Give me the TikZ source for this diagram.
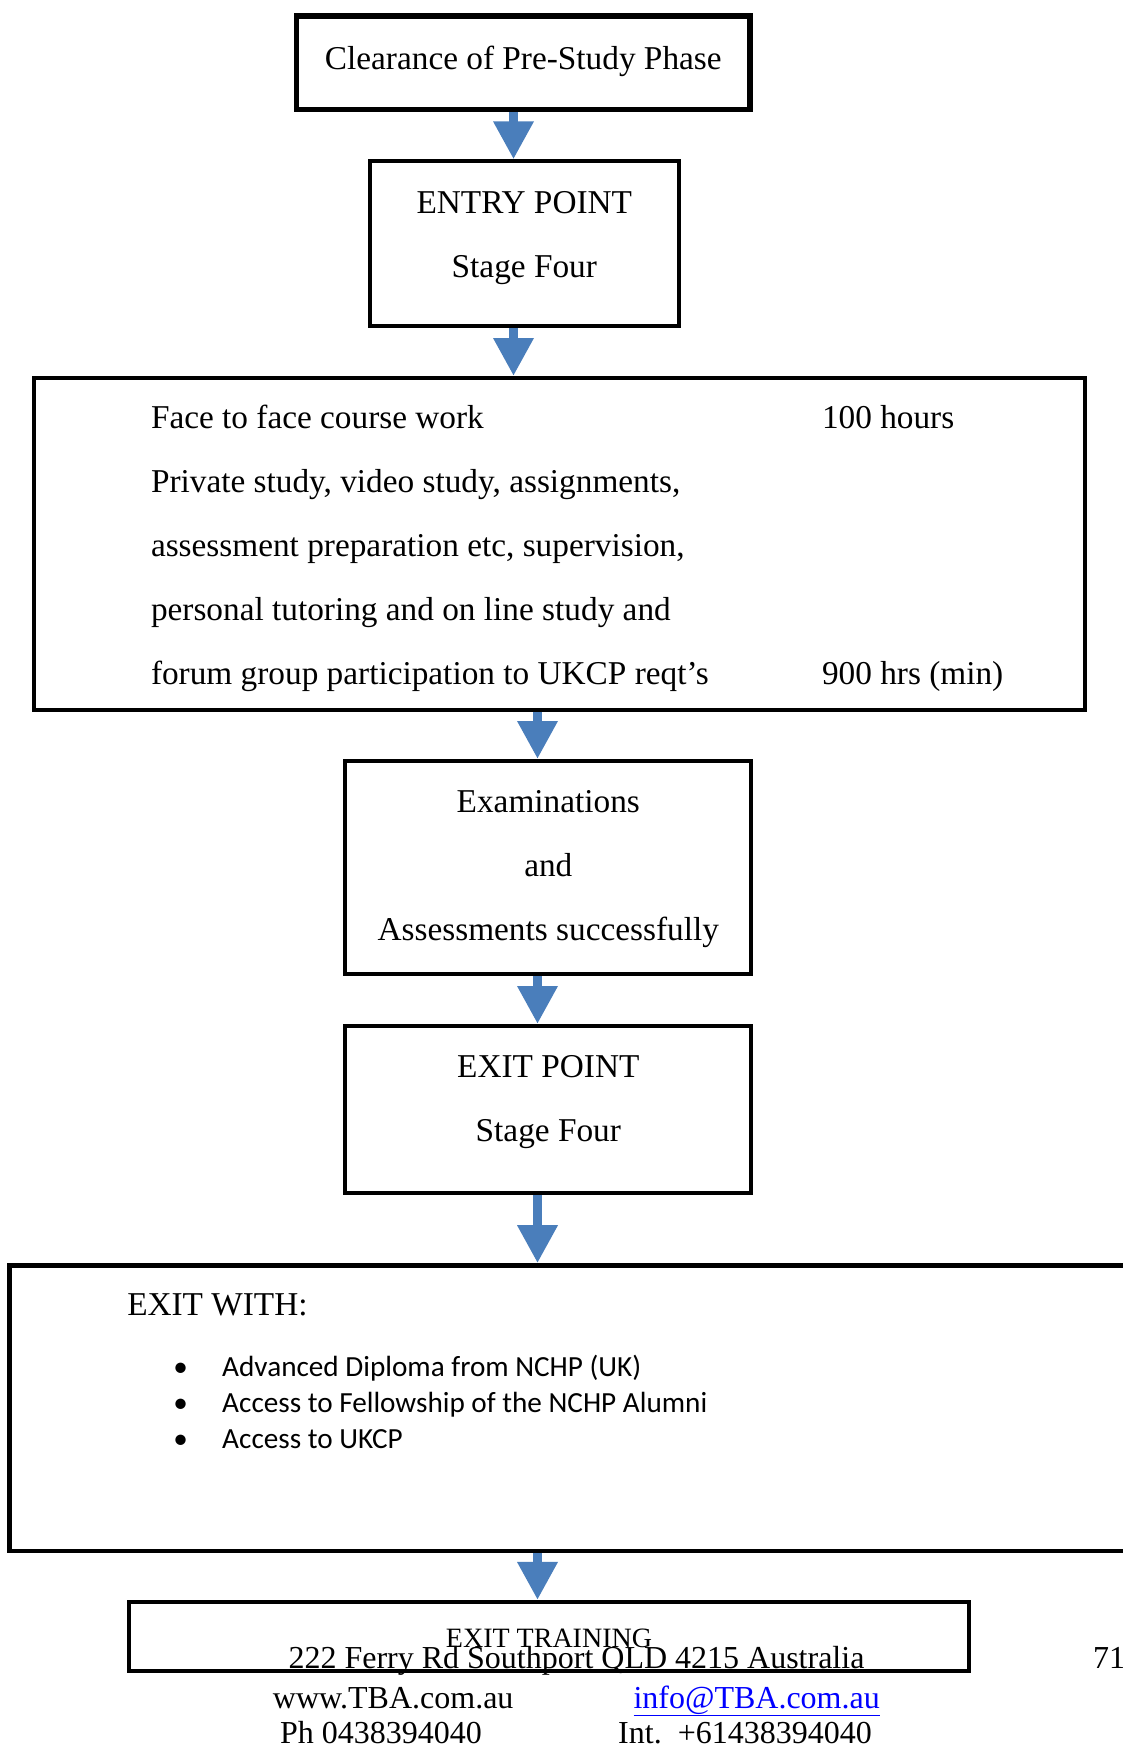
\documentclass[tikz,border=0pt]{standalone}
\usepackage{fontspec}
\setmainfont{Liberation Serif}
\newfontfamily\listfont{Carlito}
\usetikzlibrary{arrows.meta}
\usetikzlibrary{backgrounds}
\definecolor{flowblue}{HTML}{4A7EBB}
\definecolor{linkblue}{HTML}{0000FF}

\tikzset{
    stagebox/.style={draw, line width=4pt, inner ysep=0pt, align=center,
        font=\fontsize{33.3}{64}\selectfont},
    listbox/.style={stagebox, align=flush left,
        execute at begin node={\setlength{\parindent}{0pt}\setlength{\parskip}{0pt}}},
    flow/.style={draw=flowblue, line width=9.5pt,
        -{Triangle[width=38pt,length=38pt,fill=flowblue]}},
    foot/.style={anchor=base west, inner sep=0pt, font=\fontsize{32}{36}\selectfont},
}

\begin{document}
\begin{tikzpicture}[x=1pt, y=-1pt]
        \useasboundingbox (0,0) rectangle (1123,1747);
        \clip (0,0) rectangle (1123,1747);

        \node[stagebox, line width=5.5pt, minimum width=453.4pt,
              text height=53pt, text depth=40.3pt] (clear) at (523.3,62.7)
              {Clearance of Pre-Study Phase};
        \node[stagebox, minimum width=309.3pt,
              text height=115.7pt, text depth=49pt] (entry) at (524.3,243.7)
              {ENTRY POINT\\Stage Four};
        \node[listbox, text width=817pt, inner xsep=117pt,
              text height=50.3pt, text depth=281.7pt] (work) at (559.5,544)
              {\makebox[671pt][l]{Face to face course work}\rlap{100 hours}\\
               Private study, video study, assignments,\\
               assessment preparation etc, supervision,\\
               personal tutoring and on line study and\\
               \makebox[671pt][l]{forum group participation to UKCP reqt’s}\rlap{900 hrs (min)}};
        \node[stagebox, minimum width=406pt,
              text height=179pt, text depth=34pt] (exam) at (548.3,867.5)
              {Examinations\\and\\Assessments successfully};
        \node[stagebox, minimum width=406pt,
              text height=115pt, text depth=51.6pt] (exitpt) at (548.3,1109.3)
              {EXIT POINT\\Stage Four};
        \node[listbox, line width=4.5pt, text width=894.7pt, inner xsep=118pt,
              text height=50.2pt, text depth=235.3pt] (exitwith) at (574.6,1408.2)
              {EXIT WITH:\par\vspace{25.7pt}
               {\listfont\fontsize{29.2}{35.6}\selectfont
               \hspace*{46pt}\makebox[49pt][l]{•}Advanced Diploma from NCHP (UK)\\
               \hspace*{46pt}\makebox[49pt][l]{•}Access to Fellowship of the NCHP Alumni\\
               \hspace*{46pt}\makebox[49pt][l]{•}Access to UKCP\par}};
        \node[stagebox, minimum width=839.4pt, font=\fontsize{28}{32}\selectfont,
              text height=46pt, text depth=22.7pt] (exittrain) at (549,1636.3)
              {EXIT TRAINING};

        % footer of the page
        \node[foot] (addr)   at (288.3,1668) {222 Ferry Rd Southport QLD 4215 Australia};
        \node[foot] (page)   at (1093,1668)  {71};
        \node[foot] (web)    at (272.7,1708) {www.TBA.com.au};
        \node[foot, text=linkblue] (mail) at (633.3,1708) {\underline{info@TBA.com.au}};
        \node[foot] (phone)  at (280,1743)   {Ph 0438394040};
        \node[foot] (intl)   at (618,1743)   {Int.\ \ +61438394040};

        \coordinate (upper) at (513.5,0);
        \coordinate (lower) at (537.5,0);
        \begin{scope}[on background layer]
            \draw[flow] (clear.south -| upper)    -- (entry.north -| upper);
            \draw[flow] (entry.south -| upper)    -- (work.north -| upper);
            \draw[flow] (work.south -| lower)     -- (exam.north -| lower);
            \draw[flow] (exam.south -| lower)     -- (exitpt.north -| lower);
            \draw[flow] (exitpt.south -| lower)   -- (exitwith.north -| lower);
            \draw[flow] (exitwith.south -| lower) -- (exittrain.north -| lower);
        \end{scope}
    \end{tikzpicture}
\end{document}
